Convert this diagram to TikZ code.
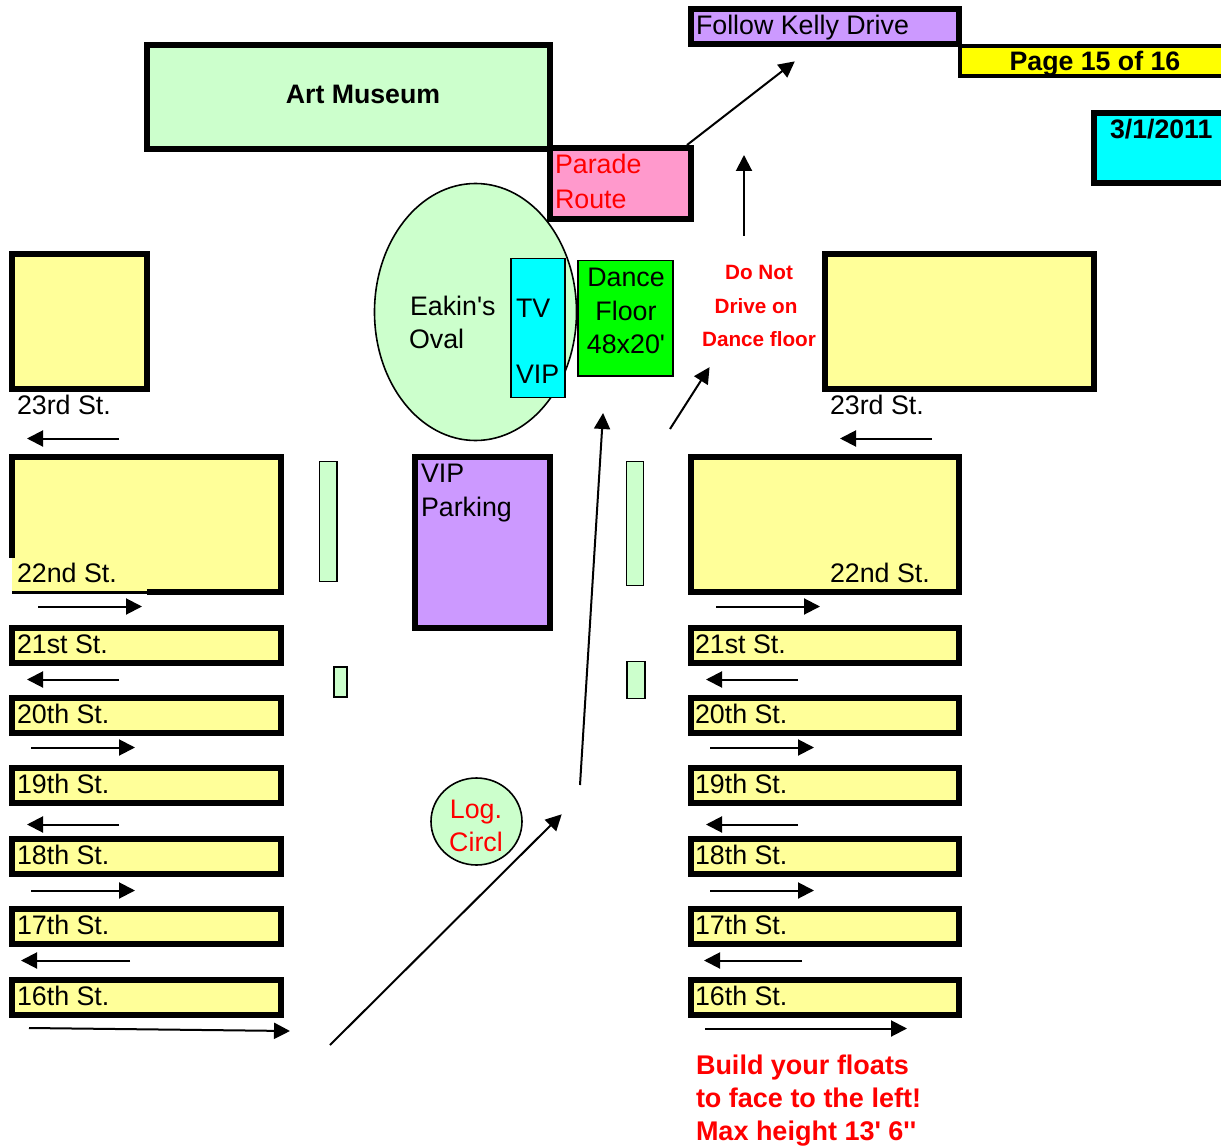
\documentclass[tikz,border=0pt]{standalone}
\usepackage{fontspec}
\newfontfamily\plainf{Liberation Sans}
\usetikzlibrary{arrows.meta,shapes.geometric}
\definecolor{lgreen}{HTML}{CCFFCC}
\definecolor{lyellow}{HTML}{FFFF99}
\definecolor{lpurple}{HTML}{CC99FF}
\definecolor{lpink}{HTML}{FF99CC}
\definecolor{fcyan}{HTML}{00FFFF}
\definecolor{fyellow}{HTML}{FFFF00}
\definecolor{fgreen}{HTML}{00FF00}
\definecolor{fred}{HTML}{FF0000}
\tikzset{
  blockbox/.style={draw=black,line width=6pt,rectangle,inner sep=0pt,outer sep=0pt},
  hairbox/.style={draw=black,line width=1.6pt,rectangle,inner sep=0pt,outer sep=0pt},
  lbl/.style={inner sep=0pt,outer sep=0pt,anchor=base west,font=\plainf\fontsize{26.8}{30}\selectfont},
  clbl/.style={inner sep=0pt,outer sep=0pt,anchor=base,font=\plainf\fontsize{26.8}{30}\selectfont},
  bold/.style={font=\plainf\fontsize{26.7}{30}\selectfont\bfseries},
  warn/.style={inner sep=0pt,outer sep=0pt,anchor=base,text=fred,font=\plainf\fontsize{20.7}{24}\selectfont\bfseries},
  build/.style={inner sep=0pt,outer sep=0pt,anchor=base west,text=fred,font=\plainf\fontsize{27}{30}\selectfont\bfseries},
  flow/.style={draw=black,line width=2pt,shorten >=-1pt,-{Triangle[length=16pt,width=16pt]}},
}
% style, name, x1,y1,x2,y2 (stroke centre lines)
\newcommand{\bx}[6]{%
  \pgfmathsetmacro{\cxx}{(#3+#5)/2}\pgfmathsetmacro{\cyy}{(#4+#6)/2}%
  \pgfmathsetmacro{\ww}{#5-#3}\pgfmathsetmacro{\hh}{#6-#4}%
  \node[#1,minimum width=\ww pt,minimum height=\hh pt] (#2) at (\cxx,\cyy) {};}
% name, start, end
\newcommand{\arr}[3]{%
  \coordinate (#1a) at (#2);\coordinate (#1b) at (#3);
  \draw[flow] (#1a) -- (#1b);}
\begin{document}
\begin{tikzpicture}[x=1pt,y=-1pt]
\useasboundingbox (0,0) rectangle (1221,1147);
\fill[white] (0,0) rectangle (1221,1147);
% top
\bx{blockbox,fill=lgreen}{museum}{147}{45}{550}{149}
\bx{blockbox,fill=lpurple}{kelly}{691}{9}{959}{44}
\bx{draw=black,line width=4pt,rectangle,inner sep=0pt,outer sep=0pt,fill=fyellow}{page}{960}{46}{1240}{76}
\bx{blockbox,fill=fcyan}{date}{1094}{113}{1240}{183}
% oval group
\node[draw=black,line width=1.6pt,fill=lgreen,ellipse,minimum width=202pt,minimum height=257pt,inner sep=0pt,outer sep=0pt] (oval) at (475.5,312) {};
\bx{blockbox,fill=lpink}{parade}{550}{148}{691}{219}
\bx{hairbox,fill=fcyan}{tv}{511}{258.5}{565}{397.5}
\bx{hairbox,fill=fgreen}{dance}{578}{260.5}{673}{376}
% blocks
\bx{blockbox,fill=lyellow}{lb23}{12}{254}{147}{389}
\bx{blockbox,fill=lyellow}{rb23}{825}{254}{1094}{389}
\bx{blockbox,fill=lyellow}{lb22}{12}{457}{281}{592}
\bx{blockbox,fill=lyellow}{rb22}{691}{457}{959}{592}
\bx{blockbox,fill=lpurple}{vipp}{415}{457}{550}{628}
\foreach \nm/\ya/\yb in {21/628/663,20/698/733,19/768/803,18/839/874,17/909/944,16/980/1015}{
  \bx{blockbox,fill=lyellow}{lb\nm}{12}{\ya}{281}{\yb}
  \bx{blockbox,fill=lyellow}{rb\nm}{691}{\ya}{959}{\yb}
}
% patch at 22nd St. left
\fill[white] (8,558) rectangle (12,596);
\fill[white] (12,594) rectangle (147,596);
\fill[lyellow] (12,558) rectangle (147,591);
\fill[black] (12,591) rectangle (147,594);
% thin green strips
\bx{hairbox,fill=lgreen}{s1}{319.5}{461.5}{337}{581.5}
\bx{hairbox,fill=lgreen}{s2}{626.5}{461.5}{643.5}{585.5}
\bx{hairbox,fill=lgreen}{s3}{334}{667}{347}{697}
\bx{hairbox,fill=lgreen}{s4}{627}{661.5}{645}{698.5}
\node[draw=black,line width=1.6pt,fill=lgreen,ellipse,minimum width=91pt,minimum height=87pt,inner sep=0pt,outer sep=0pt] (logc) at (476.5,821.5) {};
% arrows
\arr{a1}{119,438.5}{28,438.5}
\arr{a2}{932,438.5}{841,438.5}
\arr{a3}{38,606.5}{141,606.5}
\arr{a4}{716,606.5}{819,606.5}
\arr{a5}{119,679.5}{28,679.5}
\arr{a6}{798,679.5}{707,679.5}
\arr{a7}{31,747.5}{134,747.5}
\arr{a8}{710,747.5}{813,747.5}
\arr{a9}{119,824.5}{28,824.5}
\arr{a10}{798,824.5}{707,824.5}
\arr{a11}{31,890.5}{134,890.5}
\arr{a12}{710,890.5}{813,890.5}
\arr{a13}{130,960.5}{22,960.5}
\arr{a14}{802,960.5}{705,960.5}
\arr{a15}{29,1028}{289,1031}
\arr{a16}{705,1028.5}{906,1028.5}
\arr{a17}{330,1045}{561,815}
\arr{a18}{580,785}{603,414}
\arr{a19}{670,429}{709,368}
\arr{a20}{744,236}{744,156}
\arr{a21}{687,145}{794,62}
% labels
\node[clbl,bold] (tmuseum) at (363,104) {Art Museum};
\node[lbl] (tkelly) at (696,35) {Follow Kelly Drive};
\node[clbl,bold] (tpage) at (1095,71) {Page 15 of 16};
\node[lbl,bold] (tdate) at (1110,139) {3/1/2011};
\node[lbl,text=fred] (tpar1) at (555,174) {Parade};
\node[lbl,text=fred] (tpar2) at (555,209) {Route};
\node[lbl] (teak1) at (410,316) {Eakin's};
\node[lbl] (teak2) at (409,349) {Oval};
\node[lbl] (ttv) at (516,318) {TV};
\node[lbl] (tvip) at (516,384) {VIP};
\node[clbl] (td1) at (626,287) {Dance};
\node[clbl] (td2) at (626,321) {Floor};
\node[clbl] (td3) at (626,354) {48x20'};
\node[warn] (tw1) at (759,280) {Do Not};
\node[warn] (tw2) at (756,314) {Drive on};
\node[warn] (tw3) at (759,347) {Dance floor};
\node[lbl] (tvp1) at (421,482) {VIP};
\node[lbl] (tvp2) at (421,516) {Parking};
\node[clbl,text=fred] (tl1) at (476,818) {Log.};
\node[clbl,text=fred] (tl2) at (476,851) {Circl};
\node[lbl] (tl23) at (17,414) {23rd St.};
\node[lbl] (tr23) at (830,414) {23rd St.};
\node[lbl] (tl22) at (17,582) {22nd St.};
\node[lbl] (tr22) at (830,582) {22nd St.};
\foreach \nm/\yy/\lab in {21/653/21st St.,20/723/20th St.,19/793/19th St.,18/864/18th St.,17/934/17th St.,16/1005/16th St.}{
  \node[lbl] (tl\nm) at (17,\yy) {\lab};
  \node[lbl] (tr\nm) at (695,\yy) {\lab};
}
\node[build] (tb1) at (696,1074) {Build your floats};
\node[build] (tb2) at (696,1107) {to face to the left!};
\node[build] (tb3) at (696,1140) {Max height 13' 6''};
\end{tikzpicture}
\end{document}
